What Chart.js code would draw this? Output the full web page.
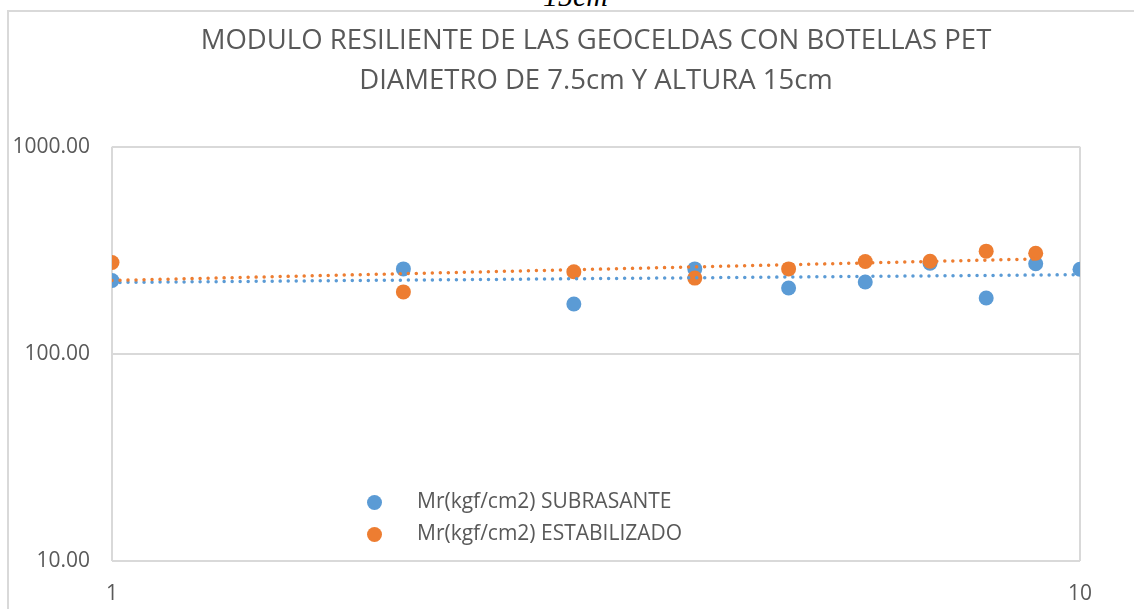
<!DOCTYPE html>
<html>
<head>
<meta charset="utf-8">
<script src="https://cdn.jsdelivr.net/npm/chart.js@4.4.0/dist/chart.umd.min.js"></script>
<style>
  html, body { margin: 0; padding: 0; background: #fff; }
  #wrap { position: relative; width: 1134px; height: 609px; overflow: hidden; }
  #frame { position: absolute; left: 7px; top: 10px; width: 1200px; height: 700px;
           border-left: 2px solid #d9d9d9; border-top: 2px solid #d9d9d9; }
  #cut { position: absolute; left: 543px; top: -21px; font: italic 30px "Liberation Serif", serif; color: #000; }
  canvas { position: absolute; left: 0; top: 0; }
  .leg { position: absolute; left: 367px; font: 21px "Open Sans", sans-serif; color: #595959; white-space: nowrap; }
  .leg span.dot { display: inline-block; width: 15px; height: 15px; border-radius: 50%; vertical-align: middle; margin-right: 35px; }
</style>
</head>
<body>
<div id="wrap">
  <div id="frame"></div>
  <div id="cut">15cm</div>
  <canvas id="scatterChart" width="1134" height="609"></canvas>
  <div class="leg" style="top:486px"><span class="dot" style="background:#5B9BD5"></span>Mr(kgf/cm2) SUBRASANTE</div>
  <div class="leg" style="top:518px"><span class="dot" style="background:#ED7D31"></span>Mr(kgf/cm2) ESTABILIZADO</div>
</div>
<script>
// data
var ensayos = [1, 2, 3, 4, 5, 6, 7, 8, 9, 10];
var subrasante = [226, 257, 174, 257, 208, 222, 274, 186, 272, 256];
var estabilizado = [276, 199, 249, 232, 257, 279, 280, 313, 306];
// trend lines (power), end points
var trendSubX = [1, 10];
var trendSubY = [221, 241];
var trendEstX = [1, 9];
var trendEstY = [226, 287];
var yTicks = [10, 100, 1000];
var xTicks = [1, 10];

function pts(xs, ys) {
  return ys.map(function (v, i) { return { x: xs[i], y: v }; });
}

var azul = '#5B9BD5';
var naranja = '#ED7D31';

var ctx = document.getElementById("scatterChart").getContext('2d');
var myChart = new Chart(ctx, {
  type: 'scatter',
  data: {
    datasets: [
      {
        label: "Tendencia ESTABILIZADO",
        data: pts(trendEstX, trendEstY),
        showLine: true,
        borderColor: naranja,
        borderWidth: 3.5,
        borderDash: [0.01, 8],
        borderCapStyle: 'round',
        pointRadius: 0,
        order: 0
      },
      {
        label: "Tendencia SUBRASANTE",
        data: pts(trendSubX, trendSubY),
        showLine: true,
        borderColor: azul,
        borderWidth: 3.5,
        borderDash: [0.01, 8],
        borderCapStyle: 'round',
        pointRadius: 0,
        order: 1
      },
      {
        label: "Mr(kgf/cm2) ESTABILIZADO",
        data: pts(ensayos, estabilizado),
        backgroundColor: naranja,
        borderWidth: 0,
        pointRadius: 7.5,
        order: 2
      },
      {
        label: "Mr(kgf/cm2) SUBRASANTE",
        data: pts(ensayos, subrasante),
        backgroundColor: azul,
        borderWidth: 0,
        pointRadius: 7.5,
        order: 3
      }
    ]
  },
  options: {
    responsive: false,
    animation: false,
    layout: { padding: { left: 0, right: 54, top: 0, bottom: 0 } },
    plugins: {
      legend: { display: false },
      tooltip: { enabled: false },
      title: {
        display: true,
        fullSize: false,
        text: ["MODULO RESILIENTE DE LAS GEOCELDAS CON BOTELLAS PET", "DIAMETRO DE 7.5cm Y ALTURA 15cm"],
        color: '#595959',
        font: { family: 'Open Sans', size: 27.5, weight: 'normal', lineHeight: 1.43 },
        padding: { top: 22, bottom: 46 }
      }
    },
    scales: {
      x: {
        type: 'logarithmic',
        min: 1,
        max: 10,
        afterBuildTicks: function (s) { s.ticks = xTicks.map(function (v) { return { value: v }; }); },
        afterFit: function (s) { s.height = 48; },
        ticks: {
          color: '#595959',
          font: { family: 'Open Sans', size: 21 },
          padding: 20,
          maxRotation: 0,
          callback: function (v) { return String(v); }
        },
        grid: { color: '#d9d9d9', lineWidth: 2, drawTicks: false },
        border: { display: false }
      },
      y: {
        type: 'logarithmic',
        min: 10,
        max: 1000,
        afterBuildTicks: function (s) { s.ticks = yTicks.map(function (v) { return { value: v }; }); },
        afterFit: function (s) { s.width = 112; },
        ticks: {
          color: '#595959',
          font: { family: 'Open Sans', size: 21 },
          padding: 22,
          callback: function (v) { return Number(v).toFixed(2); }
        },
        grid: { color: '#d9d9d9', lineWidth: 2, drawTicks: false },
        border: { display: false }
      }
    }
  }
});
</script>
</body>
</html>
